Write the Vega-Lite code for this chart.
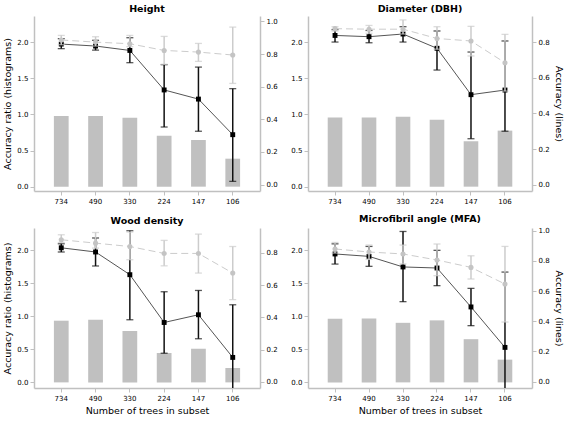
{
  "$schema": "https://vega.github.io/schema/vega-lite/v6.json",
  "padding": {"left": 2, "top": 3, "right": 2, "bottom": 2},
  "spacing": 10,
  "datasets": {
    "d": [
      {"panel": "Height", "n": "734", "ratio": 0.977, "a": 0.861, "alo": 0.833, "ahi": 0.894, "b": 0.886, "blo": 0.857, "bhi": 0.914},
      {"panel": "Height", "n": "490", "ratio": 0.977, "a": 0.849, "alo": 0.824, "ahi": 0.884, "b": 0.873, "blo": 0.849, "bhi": 0.906},
      {"panel": "Height", "n": "330", "ratio": 0.954, "a": 0.822, "alo": 0.747, "ahi": 0.900, "b": 0.863, "blo": 0.845, "bhi": 0.914},
      {"panel": "Height", "n": "224", "ratio": 0.705, "a": 0.580, "alo": 0.353, "ahi": 0.735, "b": 0.822, "blo": 0.737, "bhi": 0.908},
      {"panel": "Height", "n": "147", "ratio": 0.645, "a": 0.524, "alo": 0.327, "ahi": 0.720, "b": 0.812, "blo": 0.755, "bhi": 0.865},
      {"panel": "Height", "n": "106", "ratio": 0.387, "a": 0.306, "alo": 0.020, "ahi": 0.588, "b": 0.794, "blo": 0.620, "bhi": 0.965},
      {"panel": "Diameter (DBH)", "n": "734", "ratio": 0.958, "a": 0.837, "alo": 0.800, "ahi": 0.870, "b": 0.875, "blo": 0.862, "bhi": 0.886},
      {"panel": "Diameter (DBH)", "n": "490", "ratio": 0.958, "a": 0.830, "alo": 0.796, "ahi": 0.865, "b": 0.872, "blo": 0.849, "bhi": 0.893},
      {"panel": "Diameter (DBH)", "n": "330", "ratio": 0.967, "a": 0.845, "alo": 0.800, "ahi": 0.886, "b": 0.872, "blo": 0.845, "bhi": 0.924},
      {"panel": "Diameter (DBH)", "n": "224", "ratio": 0.927, "a": 0.765, "alo": 0.643, "ahi": 0.862, "b": 0.820, "blo": 0.760, "bhi": 0.886},
      {"panel": "Diameter (DBH)", "n": "147", "ratio": 0.628, "a": 0.505, "alo": 0.258, "ahi": 0.744, "b": 0.806, "blo": 0.722, "bhi": 0.888},
      {"panel": "Diameter (DBH)", "n": "106", "ratio": 0.775, "a": 0.531, "alo": 0.300, "ahi": 0.806, "b": 0.684, "blo": 0.525, "bhi": 0.843},
      {"panel": "Wood density", "n": "734", "ratio": 0.935, "a": 0.832, "alo": 0.806, "ahi": 0.857, "b": 0.882, "blo": 0.865, "bhi": 0.913},
      {"panel": "Wood density", "n": "490", "ratio": 0.950, "a": 0.806, "alo": 0.719, "ahi": 0.893, "b": 0.861, "blo": 0.830, "bhi": 0.927},
      {"panel": "Wood density", "n": "330", "ratio": 0.780, "a": 0.665, "alo": 0.385, "ahi": 0.938, "b": 0.840, "blo": 0.758, "bhi": 0.930},
      {"panel": "Wood density", "n": "224", "ratio": 0.445, "a": 0.368, "alo": 0.177, "ahi": 0.559, "b": 0.797, "blo": 0.720, "bhi": 0.878},
      {"panel": "Wood density", "n": "147", "ratio": 0.510, "a": 0.416, "alo": 0.267, "ahi": 0.567, "b": 0.797, "blo": 0.675, "bhi": 0.917},
      {"panel": "Wood density", "n": "106", "ratio": 0.218, "a": 0.151, "alo": -0.176, "ahi": 0.478, "b": 0.675, "blo": 0.510, "bhi": 0.840},
      {"panel": "Microfibril angle (MFA)", "n": "734", "ratio": 0.963, "a": 0.846, "alo": 0.779, "ahi": 0.913, "b": 0.879, "blo": 0.852, "bhi": 0.922},
      {"panel": "Microfibril angle (MFA)", "n": "490", "ratio": 0.968, "a": 0.830, "alo": 0.764, "ahi": 0.896, "b": 0.859, "blo": 0.810, "bhi": 0.905},
      {"panel": "Microfibril angle (MFA)", "n": "330", "ratio": 0.903, "a": 0.760, "alo": 0.530, "ahi": 0.995, "b": 0.846, "blo": 0.780, "bhi": 0.905},
      {"panel": "Microfibril angle (MFA)", "n": "224", "ratio": 0.940, "a": 0.753, "alo": 0.636, "ahi": 0.870, "b": 0.806, "blo": 0.702, "bhi": 0.912},
      {"panel": "Microfibril angle (MFA)", "n": "147", "ratio": 0.655, "a": 0.495, "alo": 0.371, "ahi": 0.618, "b": 0.757, "blo": 0.680, "bhi": 0.834},
      {"panel": "Microfibril angle (MFA)", "n": "106", "ratio": 0.345, "a": 0.227, "alo": -0.273, "ahi": 0.726, "b": 0.647, "blo": 0.395, "bhi": 0.896}
    ]
  },
  "vconcat": [
    {
      "spacing": 12,
      "hconcat": [
        {
          "width": 226, "height": 175,
          "title": "Height",
          "data": {"name": "d"},
          "transform": [{"filter": {"field": "panel", "equal": "Height"}}],
          "encoding": {"x": {"field": "n", "type": "nominal", "sort": ["734", "490", "330", "224", "147", "106"], "scale": {"paddingInner": 0.57, "paddingOuter": 0.58}, "axis": {"title": null, "labelAngle": 0}}},
          "layer": [
            {"layer": [
              {"mark": {"type": "bar", "color": "#c0c0c0"}, "encoding": {"y": {"field": "ratio", "type": "quantitative", "scale": {"domain": [-0.06, 2.36], "nice": false, "zero": false}, "axis": {"orient": "left", "title": "Accuracy ratio (histograms)", "values": [0, 0.5, 1, 1.5, 2], "tickCount": 20, "format": ".1f", "labelOverlap": false}}}},
              {"mark": {"type": "rule", "color": "#d6d6d6", "strokeWidth": 1.2}, "encoding": {"y": {"datum": 0, "type": "quantitative"}}}
            ]},
            {"layer": [
              {"mark": {"type": "rule", "color": "#111111", "strokeWidth": 1.5, "clip": true}, "encoding": {"y": {"field": "alo", "type": "quantitative", "scale": {"domain": [-0.039, 1.033], "nice": false, "zero": false}, "axis": {"orient": "right", "title": null, "values": [0, 0.2, 0.4, 0.6, 0.8, 1], "tickCount": 20, "format": ".1f", "labelOverlap": false}}, "y2": {"field": "ahi"}}},
              {"mark": {"type": "tick", "color": "#111111", "size": 7, "thickness": 1.3, "clip": true}, "encoding": {"y": {"field": "alo", "type": "quantitative", "title": null}}},
              {"mark": {"type": "tick", "color": "#111111", "size": 7, "thickness": 1.3, "clip": true}, "encoding": {"y": {"field": "ahi", "type": "quantitative", "title": null}}},
              {"mark": {"type": "line", "color": "#555555", "strokeWidth": 1}, "encoding": {"y": {"field": "a", "type": "quantitative", "title": null}}},
              {"mark": {"type": "point", "shape": "square", "filled": true, "color": "#000000", "size": 24, "opacity": 1}, "encoding": {"y": {"field": "a", "type": "quantitative", "title": null}}},
              {"mark": {"type": "rule", "color": "#cccccc", "strokeWidth": 1.5, "clip": true}, "encoding": {"y": {"field": "blo", "type": "quantitative", "title": null}, "y2": {"field": "bhi"}}},
              {"mark": {"type": "tick", "color": "#cccccc", "size": 7, "thickness": 1.3, "clip": true}, "encoding": {"y": {"field": "blo", "type": "quantitative", "title": null}}},
              {"mark": {"type": "tick", "color": "#cccccc", "size": 7, "thickness": 1.3, "clip": true}, "encoding": {"y": {"field": "bhi", "type": "quantitative", "title": null}}},
              {"mark": {"type": "line", "color": "#cccccc", "strokeWidth": 1, "strokeDash": [7, 4]}, "encoding": {"y": {"field": "b", "type": "quantitative", "title": null}}},
              {"mark": {"type": "point", "shape": "circle", "filled": true, "color": "#c4c4c4", "size": 26, "opacity": 1}, "encoding": {"y": {"field": "b", "type": "quantitative", "title": null}}}
            ]}
          ],
          "resolve": {"scale": {"y": "independent"}}
        },
        {
          "width": 224, "height": 175,
          "title": "Diameter (DBH)",
          "data": {"name": "d"},
          "transform": [{"filter": {"field": "panel", "equal": "Diameter (DBH)"}}],
          "encoding": {"x": {"field": "n", "type": "nominal", "sort": ["734", "490", "330", "224", "147", "106"], "scale": {"paddingInner": 0.57, "paddingOuter": 0.58}, "axis": {"title": null, "labelAngle": 0}}},
          "layer": [
            {"layer": [
              {"mark": {"type": "bar", "color": "#c0c0c0"}, "encoding": {"y": {"field": "ratio", "type": "quantitative", "scale": {"domain": [-0.06, 2.36], "nice": false, "zero": false}, "axis": {"orient": "left", "title": null, "values": [0, 0.5, 1, 1.5, 2], "tickCount": 20, "format": ".1f", "labelOverlap": false}}}},
              {"mark": {"type": "rule", "color": "#d6d6d6", "strokeWidth": 1.2}, "encoding": {"y": {"datum": 0, "type": "quantitative"}}}
            ]},
            {"layer": [
              {"mark": {"type": "rule", "color": "#111111", "strokeWidth": 1.5, "clip": true}, "encoding": {"y": {"field": "alo", "type": "quantitative", "scale": {"domain": [-0.035, 0.946], "nice": false, "zero": false}, "axis": {"orient": "right", "title": "Accuracy (lines)", "values": [0, 0.2, 0.4, 0.6, 0.8], "tickCount": 20, "format": ".1f", "labelOverlap": false}}, "y2": {"field": "ahi"}}},
              {"mark": {"type": "tick", "color": "#111111", "size": 7, "thickness": 1.3, "clip": true}, "encoding": {"y": {"field": "alo", "type": "quantitative", "title": "Accuracy (lines)"}}},
              {"mark": {"type": "tick", "color": "#111111", "size": 7, "thickness": 1.3, "clip": true}, "encoding": {"y": {"field": "ahi", "type": "quantitative", "title": "Accuracy (lines)"}}},
              {"mark": {"type": "line", "color": "#555555", "strokeWidth": 1}, "encoding": {"y": {"field": "a", "type": "quantitative", "title": "Accuracy (lines)"}}},
              {"mark": {"type": "point", "shape": "square", "filled": true, "color": "#000000", "size": 24, "opacity": 1}, "encoding": {"y": {"field": "a", "type": "quantitative", "title": "Accuracy (lines)"}}},
              {"mark": {"type": "rule", "color": "#cccccc", "strokeWidth": 1.5, "clip": true}, "encoding": {"y": {"field": "blo", "type": "quantitative", "title": "Accuracy (lines)"}, "y2": {"field": "bhi"}}},
              {"mark": {"type": "tick", "color": "#cccccc", "size": 7, "thickness": 1.3, "clip": true}, "encoding": {"y": {"field": "blo", "type": "quantitative", "title": "Accuracy (lines)"}}},
              {"mark": {"type": "tick", "color": "#cccccc", "size": 7, "thickness": 1.3, "clip": true}, "encoding": {"y": {"field": "bhi", "type": "quantitative", "title": "Accuracy (lines)"}}},
              {"mark": {"type": "line", "color": "#cccccc", "strokeWidth": 1, "strokeDash": [7, 4]}, "encoding": {"y": {"field": "b", "type": "quantitative", "title": "Accuracy (lines)"}}},
              {"mark": {"type": "point", "shape": "circle", "filled": true, "color": "#c4c4c4", "size": 26, "opacity": 1}, "encoding": {"y": {"field": "b", "type": "quantitative", "title": "Accuracy (lines)"}}}
            ]}
          ],
          "resolve": {"scale": {"y": "independent"}}
        }
      ]
    },
    {
      "spacing": 12,
      "hconcat": [
        {
          "width": 226, "height": 160,
          "title": "Wood density",
          "data": {"name": "d"},
          "transform": [{"filter": {"field": "panel", "equal": "Wood density"}}],
          "encoding": {"x": {"field": "n", "type": "nominal", "sort": ["734", "490", "330", "224", "147", "106"], "scale": {"paddingInner": 0.57, "paddingOuter": 0.58}, "axis": {"title": "Number of trees in subset", "labelAngle": 0}}},
          "layer": [
            {"layer": [
              {"mark": {"type": "bar", "color": "#c0c0c0"}, "encoding": {"y": {"field": "ratio", "type": "quantitative", "scale": {"domain": [-0.085, 2.34], "nice": false, "zero": false}, "axis": {"orient": "left", "title": "Accuracy ratio (histograms)", "values": [0, 0.5, 1, 1.5, 2], "tickCount": 20, "format": ".1f", "labelOverlap": false}}}},
              {"mark": {"type": "rule", "color": "#d6d6d6", "strokeWidth": 1.2}, "encoding": {"y": {"datum": 0, "type": "quantitative"}}}
            ]},
            {"layer": [
              {"mark": {"type": "rule", "color": "#111111", "strokeWidth": 1.5, "clip": true}, "encoding": {"y": {"field": "alo", "type": "quantitative", "scale": {"domain": [-0.039, 0.955], "nice": false, "zero": false}, "axis": {"orient": "right", "title": null, "values": [0, 0.2, 0.4, 0.6, 0.8], "tickCount": 20, "format": ".1f", "labelOverlap": false}}, "y2": {"field": "ahi"}}},
              {"mark": {"type": "tick", "color": "#111111", "size": 7, "thickness": 1.3, "clip": true}, "encoding": {"y": {"field": "alo", "type": "quantitative", "title": null}}},
              {"mark": {"type": "tick", "color": "#111111", "size": 7, "thickness": 1.3, "clip": true}, "encoding": {"y": {"field": "ahi", "type": "quantitative", "title": null}}},
              {"mark": {"type": "line", "color": "#555555", "strokeWidth": 1}, "encoding": {"y": {"field": "a", "type": "quantitative", "title": null}}},
              {"mark": {"type": "point", "shape": "square", "filled": true, "color": "#000000", "size": 24, "opacity": 1}, "encoding": {"y": {"field": "a", "type": "quantitative", "title": null}}},
              {"mark": {"type": "rule", "color": "#cccccc", "strokeWidth": 1.5, "clip": true}, "encoding": {"y": {"field": "blo", "type": "quantitative", "title": null}, "y2": {"field": "bhi"}}},
              {"mark": {"type": "tick", "color": "#cccccc", "size": 7, "thickness": 1.3, "clip": true}, "encoding": {"y": {"field": "blo", "type": "quantitative", "title": null}}},
              {"mark": {"type": "tick", "color": "#cccccc", "size": 7, "thickness": 1.3, "clip": true}, "encoding": {"y": {"field": "bhi", "type": "quantitative", "title": null}}},
              {"mark": {"type": "line", "color": "#cccccc", "strokeWidth": 1, "strokeDash": [7, 4]}, "encoding": {"y": {"field": "b", "type": "quantitative", "title": null}}},
              {"mark": {"type": "point", "shape": "circle", "filled": true, "color": "#c4c4c4", "size": 26, "opacity": 1}, "encoding": {"y": {"field": "b", "type": "quantitative", "title": null}}}
            ]}
          ],
          "resolve": {"scale": {"y": "independent"}}
        },
        {
          "width": 224, "height": 160,
          "title": "Microfibril angle (MFA)",
          "data": {"name": "d"},
          "transform": [{"filter": {"field": "panel", "equal": "Microfibril angle (MFA)"}}],
          "encoding": {"x": {"field": "n", "type": "nominal", "sort": ["734", "490", "330", "224", "147", "106"], "scale": {"paddingInner": 0.57, "paddingOuter": 0.58}, "axis": {"title": "Number of trees in subset", "labelAngle": 0}}},
          "layer": [
            {"layer": [
              {"mark": {"type": "bar", "color": "#c0c0c0"}, "encoding": {"y": {"field": "ratio", "type": "quantitative", "scale": {"domain": [-0.085, 2.34], "nice": false, "zero": false}, "axis": {"orient": "left", "title": null, "values": [0, 0.5, 1, 1.5, 2], "tickCount": 20, "format": ".1f", "labelOverlap": false}}}},
              {"mark": {"type": "rule", "color": "#d6d6d6", "strokeWidth": 1.2}, "encoding": {"y": {"datum": 0, "type": "quantitative"}}}
            ]},
            {"layer": [
              {"mark": {"type": "rule", "color": "#111111", "strokeWidth": 1.5, "clip": true}, "encoding": {"y": {"field": "alo", "type": "quantitative", "scale": {"domain": [-0.042, 1.018], "nice": false, "zero": false}, "axis": {"orient": "right", "title": "Accuracy (lines)", "values": [0, 0.2, 0.4, 0.6, 0.8, 1], "tickCount": 20, "format": ".1f", "labelOverlap": false}}, "y2": {"field": "ahi"}}},
              {"mark": {"type": "tick", "color": "#111111", "size": 7, "thickness": 1.3, "clip": true}, "encoding": {"y": {"field": "alo", "type": "quantitative", "title": "Accuracy (lines)"}}},
              {"mark": {"type": "tick", "color": "#111111", "size": 7, "thickness": 1.3, "clip": true}, "encoding": {"y": {"field": "ahi", "type": "quantitative", "title": "Accuracy (lines)"}}},
              {"mark": {"type": "line", "color": "#555555", "strokeWidth": 1}, "encoding": {"y": {"field": "a", "type": "quantitative", "title": "Accuracy (lines)"}}},
              {"mark": {"type": "point", "shape": "square", "filled": true, "color": "#000000", "size": 24, "opacity": 1}, "encoding": {"y": {"field": "a", "type": "quantitative", "title": "Accuracy (lines)"}}},
              {"mark": {"type": "rule", "color": "#cccccc", "strokeWidth": 1.5, "clip": true}, "encoding": {"y": {"field": "blo", "type": "quantitative", "title": "Accuracy (lines)"}, "y2": {"field": "bhi"}}},
              {"mark": {"type": "tick", "color": "#cccccc", "size": 7, "thickness": 1.3, "clip": true}, "encoding": {"y": {"field": "blo", "type": "quantitative", "title": "Accuracy (lines)"}}},
              {"mark": {"type": "tick", "color": "#cccccc", "size": 7, "thickness": 1.3, "clip": true}, "encoding": {"y": {"field": "bhi", "type": "quantitative", "title": "Accuracy (lines)"}}},
              {"mark": {"type": "line", "color": "#cccccc", "strokeWidth": 1, "strokeDash": [7, 4]}, "encoding": {"y": {"field": "b", "type": "quantitative", "title": "Accuracy (lines)"}}},
              {"mark": {"type": "point", "shape": "circle", "filled": true, "color": "#c4c4c4", "size": 26, "opacity": 1}, "encoding": {"y": {"field": "b", "type": "quantitative", "title": "Accuracy (lines)"}}}
            ]}
          ],
          "resolve": {"scale": {"y": "independent"}}
        }
      ]
    }
  ],
  "config": {
    "font": "DejaVu Sans",
    "view": {"stroke": null},
    "concat": {"spacing": 12},
    "axis": {"domainColor": "#c0c0c0", "domainWidth": 1.5, "tickColor": "#c0c0c0", "tickSize": 4, "labelFontSize": 7, "labelColor": "#000000", "labelOverlap": false, "titleFontSize": 9.5, "titleFontWeight": "normal", "titleColor": "#000000", "grid": false, "labelPadding": 2, "titlePadding": 4},
    "title": {"fontSize": 9.5, "fontWeight": "bold", "offset": 3, "color": "#000000"}
  }
}
